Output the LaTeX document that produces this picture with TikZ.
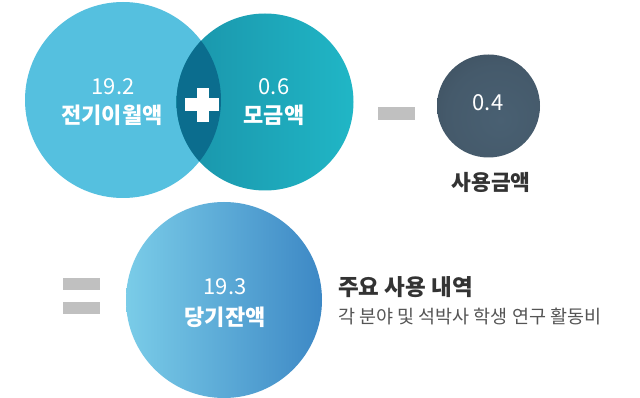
\documentclass[tikz,border=0pt]{standalone}
\usepackage{fontspec}
\setmainfont{Noto Sans CJK KR}
\newfontfamily\kr{Noto Sans CJK KR}
\definecolor{cone}{HTML}{55C0DF}
\definecolor{ctwoL}{HTML}{1A94AA}
\definecolor{ctwoR}{HTML}{20B6C6}
\definecolor{cover}{HTML}{0B6D8E}
\definecolor{cbar}{HTML}{C0C0C0}
\definecolor{cbigL}{HTML}{7ACCE8}
\definecolor{cbigR}{HTML}{3D88C5}
\definecolor{ctext}{HTML}{333333}
\definecolor{csub}{HTML}{555555}
\pgfdeclareradialshading{darkball}{\pgfpoint{6bp}{-7bp}}{%
  rgb(0bp)=(0.286,0.376,0.447);
  rgb(24bp)=(0.271,0.353,0.420);
  rgb(42bp)=(0.235,0.306,0.365);
  rgb(52bp)=(0.184,0.235,0.282);
  rgb(70bp)=(0.160,0.200,0.240)}
\tikzset{
  bub/.style={circle, inner sep=0pt, draw=none},
  barbox/.style={fill=cbar, inner sep=0pt, minimum width=37pt, minimum height=12.5pt},
  num/.style={text=white, font=\kr\fontsize{22}{26}\selectfont, inner sep=0pt},
  lbl/.style={text=white, font=\kr\bfseries\fontsize{22}{26}\selectfont, inner sep=0pt},
}
\begin{document}
\begin{tikzpicture}[x=1pt,y=-1pt]
\useasboundingbox (0,0) rectangle (640,398);
\fill[white] (0,0) rectangle (640,398);
% circles
\node[bub, minimum size=196pt, fill=cone] (c1) at (123,100) {};
\node[bub, minimum size=177pt, left color=ctwoL, right color=ctwoR] (c2) at (265,102) {};
\begin{scope}
  \clip (123,100) circle (98pt);
  \fill[cover] (265,102) circle (88.5pt);
\end{scope}
% plus
\node[fill=white, inner sep=0pt, minimum width=34pt, minimum height=13pt] (plush) at (202,105) {};
\node[fill=white, inner sep=0pt, minimum width=12pt, minimum height=34pt] (plusv) at (202.5,105) {};
% minus
\node[barbox] (minus) at (396.5,113.5) {};
% dark circle
\node[bub, minimum size=103pt, shading=darkball] (c3) at (488.5,106) {};
% equals
\node[barbox] (eq1) at (81.5,284) {};
\node[barbox] (eq2) at (81.5,308) {};
% big circle
\node[bub, minimum size=196pt, left color=cbigL, right color=cbigR] (c4) at (224,300) {};
% texts
\node[num] (t1n) at (113,87) {19.2};
\node[lbl] (t1l) at (112,115) {전기이월액};
\node[num] (t2n) at (274,87) {0.6};
\node[lbl] (t2l) at (274,115) {모금액};
\node[num] (t3n) at (488,103) {0.4};
\node[text=ctext, font=\kr\bfseries\fontsize{21.5}{25}\selectfont, inner sep=0pt] (t3l) at (491,182) {사용금액};
\node[num] (t4n) at (225,287) {19.3};
\node[lbl] (t4l) at (225,317) {당기잔액};
\node[text=ctext, font=\kr\bfseries\fontsize{22.5}{26}\selectfont, inner sep=0pt, anchor=west] (h1) at (338,287) {주요 사용 내역};
\node[text=csub, font=\kr\fontsize{18.5}{22}\selectfont, inner sep=0pt, anchor=west] (h2) at (338,317) {각 분야 및 석박사 학생 연구 활동비};
\end{tikzpicture}
\end{document}
